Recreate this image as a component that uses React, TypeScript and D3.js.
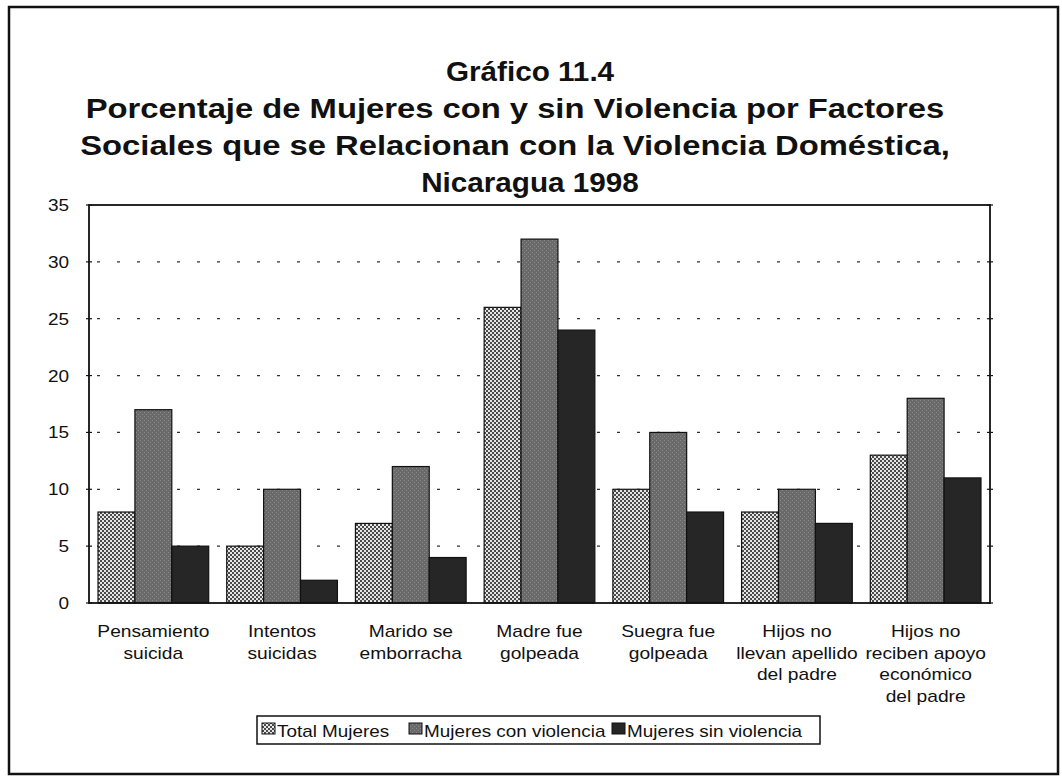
import React from "react";
import * as d3 from "d3";

const categories: string[][] = [
  ["Pensamiento", "suicida"],
  ["Intentos", "suicidas"],
  ["Marido se", "emborracha"],
  ["Madre fue", "golpeada"],
  ["Suegra fue", "golpeada"],
  ["Hijos no", "llevan apellido", "del padre"],
  ["Hijos no", "reciben apoyo", "económico", "del padre"],
];
const seriesNames = ["Total Mujeres", "Mujeres con violencia", "Mujeres sin violencia"];
const totalMujeres = [8, 5, 7, 26, 10, 8, 13];
const conViolencia = [17, 10, 12, 32, 15, 10, 18];
const sinViolencia = [5, 2, 4, 24, 8, 7, 11];
const yTicks = [0, 5, 10, 15, 20, 25, 30, 35];
const titleLines = [
  "Gráfico 11.4",
  "Porcentaje de Mujeres con y sin Violencia por Factores",
  "Sociales que se Relacionan con la Violencia Doméstica,",
  "Nicaragua 1998",
];

const W = 1062, H = 777;
const plot = { left: 89, right: 990, top: 205, bottom: 603 };
const FONT = "'Liberation Sans', Arial, Helvetica, sans-serif";
const fills = ["url(#checker)", "url(#speckle)", "#262626"];

function SText(props: { x: number; y: number; sx: number; anchor?: string; size: number; bold?: boolean; children: React.ReactNode }) {
  const { x, y, sx, anchor = "start", size, bold, children } = props;
  return (
    <g transform={`translate(${x},${y}) scale(${sx},1)`}>
      <text x={0} y={0} textAnchor={anchor} fontSize={size} fontWeight={bold ? "bold" : "normal"} fill="#111">{children}</text>
    </g>
  );
}

export default function App() {
  const series = [totalMujeres, conViolencia, sinViolencia];
  const x0 = d3.scaleBand<number>().domain(d3.range(categories.length)).range([plot.left, plot.right]).paddingInner(0.14).paddingOuter(0.07);
  const x1 = d3.scaleBand<number>().domain([0, 1, 2]).range([0, x0.bandwidth()]);
  const y = d3.scaleLinear().domain([0, 35]).range([plot.bottom, plot.top]);
  const step = x0.step();
  const titleX = [530, 515, 515, 530];
  const titleSx = [1.06, 1.17, 1.17, 1.06];

  return (
    <svg width={W} height={H} style={{ position: "absolute", left: 0, top: 0, background: "#fff" }} fontFamily={FONT}>
      <defs>
        <pattern id="checker" width="4" height="4" patternUnits="userSpaceOnUse">
          <rect width="4" height="4" fill="#e6e6e6" />
          <rect width="2" height="2" fill="#4a4a4a" />
          <rect x="2" y="2" width="2" height="2" fill="#4a4a4a" />
        </pattern>
        <pattern id="speckle" width="4" height="4" patternUnits="userSpaceOnUse">
          <rect width="4" height="4" fill="#6a6a6a" />
          <rect width="1" height="1" fill="#8a8a8a" />
          <rect x="2" y="2" width="1" height="1" fill="#8a8a8a" />
        </pattern>
      </defs>
      <rect x={9} y={7} width={1049} height={767} fill="none" stroke="#111" strokeWidth={2.5} />
      {titleLines.map((t, i) => (
        <SText key={i} x={titleX[i]} y={81 + i * 37} sx={titleSx[i]} anchor="middle" size={28} bold>{t}</SText>
      ))}
      {yTicks.filter(t => t > 0 && t < 35).map(t => (
        <line key={t} x1={plot.left} x2={plot.right} y1={y(t)} y2={y(t)} stroke="#333" strokeWidth={1.2} strokeDasharray="3,17" strokeDashoffset={-8} />
      ))}
      {series.map((vals, si) => vals.map((v, ci) => (
        <rect key={si + "-" + ci} x={x0(ci)! + x1(si)!} y={y(v)} width={x1.bandwidth()} height={y(0) - y(v)} fill={fills[si]} stroke="#111" strokeWidth={1.2} />
      )))}
      <rect x={plot.left} y={plot.top} width={plot.right - plot.left} height={plot.bottom - plot.top} fill="none" stroke="#111" strokeWidth={1.8} />
      {yTicks.map(t => (
        <g key={t}>
          <line x1={plot.left - 3} x2={plot.left + 3} y1={y(t)} y2={y(t)} stroke="#111" strokeWidth={1.2} />
          <line x1={plot.right - 3} x2={plot.right + 3} y1={y(t)} y2={y(t)} stroke="#111" strokeWidth={1.2} />
          <SText x={69} y={y(t) + 6} sx={1.15} anchor="end" size={16.5}>{t}</SText>
        </g>
      ))}
      {categories.map((lines, ci) => (
        <g key={ci}>
          {lines.map((l, li) => (
            <SText key={li} x={plot.left + step * (ci + 0.5)} y={637 + li * 21.5} sx={1.2} anchor="middle" size={16}>{l}</SText>
          ))}
        </g>
      ))}
      <g>
        <rect x={257} y={716} width={563} height={28} fill="#fff" stroke="#111" strokeWidth={1.5} />
        {seriesNames.map((n, i) => {
          const xs = [262, 409, 612][i];
          return (
            <g key={n}>
              <rect x={xs} y={723} width={13} height={11} fill={fills[i]} stroke="#111" strokeWidth={1} />
              <SText x={xs + 15} y={737} sx={1.18} size={16}>{n}</SText>
            </g>
          );
        })}
      </g>
    </svg>
  );
}
